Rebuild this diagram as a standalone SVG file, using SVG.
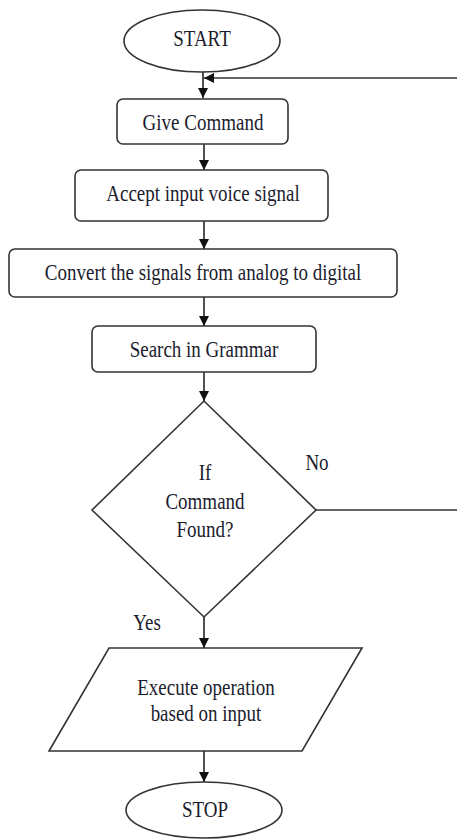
<svg xmlns="http://www.w3.org/2000/svg" width="457" height="839" viewBox="0 0 457 839">
<defs>
<style>
.shape{fill:#fff;stroke:#333;stroke-width:1.6}
.conn{fill:none;stroke:#333;stroke-width:1.7}
text{font-family:"Liberation Serif","Times New Roman",serif;font-size:19px;fill:#1c1c2e;text-anchor:middle}
</style>
<marker id="ah" viewBox="0 0 10 10" refX="10" refY="5" markerWidth="11" markerHeight="10" markerUnits="userSpaceOnUse" orient="auto">
<path d="M0,0 L10,5 L0,10 Z" fill="#111"/>
</marker>
</defs>
<rect width="457" height="839" fill="#fff"/>
<g id="connectors">
<line class="conn" x1="203" y1="72" x2="203" y2="98" marker-end="url(#ah)"/>
<line class="conn" x1="457" y1="78" x2="204" y2="78" marker-end="url(#ah)"/>
<line class="conn" x1="204" y1="144" x2="204" y2="170" marker-end="url(#ah)"/>
<line class="conn" x1="204" y1="221" x2="204" y2="249" marker-end="url(#ah)"/>
<line class="conn" x1="204" y1="297" x2="204" y2="326" marker-end="url(#ah)"/>
<line class="conn" x1="204" y1="372" x2="204" y2="401" marker-end="url(#ah)"/>
<line class="conn" x1="316" y1="510" x2="457" y2="510"/>
<line class="conn" x1="204" y1="617" x2="204" y2="648" marker-end="url(#ah)"/>
<line class="conn" x1="204" y1="751" x2="204" y2="782" marker-end="url(#ah)"/>
<text transform="translate(317,470) scale(1,1.2)">No</text>
<text transform="translate(147,630) scale(1,1.2)">Yes</text>
</g>
<g id="start">
<ellipse class="shape" cx="202" cy="41" rx="78" ry="31"/>
<text transform="translate(202,46) scale(1,1.2)">START</text>
</g>
<g id="give-command">
<rect class="shape" x="117" y="99" width="171" height="45" rx="6"/>
<text transform="translate(203,130) scale(1,1.2)">Give Command</text>
</g>
<g id="accept-input">
<rect class="shape" x="75" y="170" width="253" height="51" rx="6"/>
<text transform="translate(203,201) scale(1,1.2)">Accept input voice signal</text>
</g>
<g id="convert">
<rect class="shape" x="9" y="249" width="388" height="48" rx="6"/>
<text transform="translate(203,280) scale(1,1.2)">Convert the signals from analog to digital</text>
</g>
<g id="search">
<rect class="shape" x="92" y="326" width="224" height="46" rx="6"/>
<text transform="translate(204,357) scale(1,1.2)">Search in Grammar</text>
</g>
<g id="decision">
<polygon class="shape" points="204,401 316,510 204,617 92,510"/>
<text transform="translate(205,480) scale(1,1.2)">If</text>
<text transform="translate(205,509) scale(1,1.2)">Command</text>
<text transform="translate(205,537) scale(1,1.2)">Found?</text>
</g>
<g id="execute">
<polygon class="shape" points="109,648 362,648 302,751 49,751"/>
<text transform="translate(206,695) scale(1,1.2)">Execute operation</text>
<text transform="translate(206,721) scale(1,1.2)">based on input</text>
</g>
<g id="stop">
<ellipse class="shape" cx="204" cy="810" rx="78" ry="28"/>
<text transform="translate(205,817) scale(1,1.2)">STOP</text>
</g>
</svg>
